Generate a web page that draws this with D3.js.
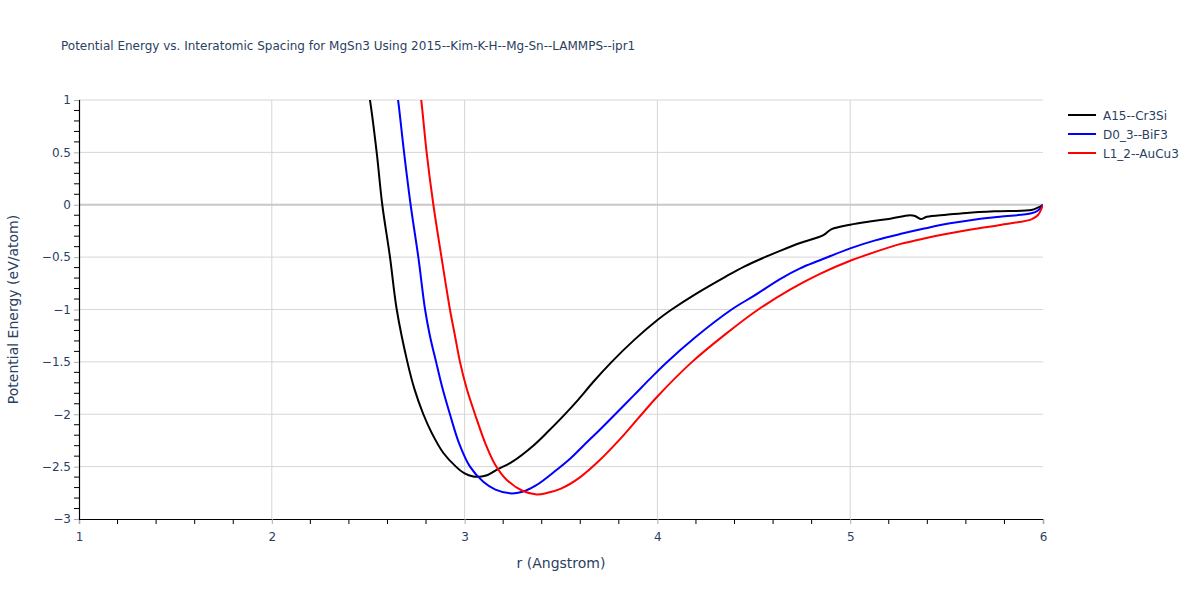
<!DOCTYPE html>
<html lang="en">
<head>
<meta charset="UTF-8">
<title>MgSn3 potential energy</title>
<script src="https://cdnjs.cloudflare.com/ajax/libs/d3/7.9.0/d3.min.js"></script>
<style>
  body { margin: 0; background: #fff; }
  svg { font-family: "DejaVu Sans", Verdana, sans-serif; }
</style>
</head>
<body>
<div id="chart"></div>
<script>
// values: [r (Angstrom), energy (eV/atom)]
const seriesNames = ['A15--Cr3Si', 'D0_3--BiF3', 'L1_2--AuCu3'];
const seriesColors = ['black', 'blue', 'red'];

const a15 = [
  [2.50, 1.08], [2.509, 1.0], [2.544, 0.5], [2.573, 0.0], [2.613, -0.5], [2.648, -1.0],
  [2.703, -1.5], [2.74, -1.76], [2.786, -2.0], [2.83, -2.18], [2.89, -2.37], [2.955, -2.5],
  [3.0, -2.565], [3.045, -2.594], [3.08, -2.596], [3.12, -2.58], [3.166, -2.53], [3.25, -2.45],
  [3.356, -2.30], [3.43, -2.17], [3.51, -2.02], [3.59, -1.86], [3.668, -1.69], [3.763, -1.5],
  [3.88, -1.29], [4.0, -1.10], [4.074, -1.0], [4.2, -0.85], [4.35, -0.69], [4.45, -0.59],
  [4.558, -0.5], [4.636, -0.44], [4.74, -0.365], [4.861, -0.29], [4.904, -0.233], [5.0, -0.19],
  [5.1, -0.16], [5.2, -0.135], [5.31, -0.10], [5.336, -0.107], [5.366, -0.136], [5.397, -0.115],
  [5.5, -0.095], [5.604, -0.078], [5.75, -0.063], [5.94, -0.05], [5.97, -0.03], [6.0, 0.0]
];

const d03 = [
  [2.648, 1.08], [2.655, 1.0], [2.686, 0.5], [2.72, 0.0], [2.76, -0.5], [2.795, -1.0],
  [2.82, -1.25], [2.852, -1.5], [2.885, -1.75], [2.924, -2.0], [2.97, -2.27], [3.028, -2.5],
  [3.097, -2.645], [3.16, -2.72], [3.236, -2.755], [3.30, -2.74], [3.37, -2.68], [3.478, -2.53],
  [3.55, -2.42], [3.616, -2.30], [3.70, -2.15], [3.789, -1.985], [3.88, -1.815], [3.96, -1.665],
  [4.045, -1.51], [4.2, -1.26], [4.385, -1.0], [4.5, -0.87], [4.636, -0.709], [4.74, -0.607],
  [4.843, -0.53], [5.0, -0.416], [5.13, -0.34], [5.258, -0.28], [5.39, -0.225], [5.518, -0.177],
  [5.65, -0.14], [5.777, -0.114], [5.94, -0.082], [5.974, -0.055], [6.0, 0.0]
];

const l12 = [
  [2.768, 1.08], [2.775, 1.0], [2.803, 0.5], [2.838, 0.0], [2.88, -0.5], [2.924, -1.0],
  [2.95, -1.25], [2.976, -1.5], [3.01, -1.75], [3.054, -2.0], [3.11, -2.29], [3.158, -2.48],
  [3.215, -2.62], [3.30, -2.73], [3.374, -2.765], [3.43, -2.75], [3.50, -2.71], [3.60, -2.60],
  [3.70, -2.44], [3.80, -2.25], [3.90, -2.04], [4.0, -1.83], [4.18, -1.5], [4.35, -1.24],
  [4.523, -1.0], [4.688, -0.81], [4.843, -0.66], [5.0, -0.535], [5.13, -0.45], [5.258, -0.376],
  [5.39, -0.32], [5.518, -0.273], [5.65, -0.23], [5.777, -0.193], [5.94, -0.139], [5.974, -0.098],
  [6.0, 0.0]
];

const xTicks = [1, 2, 3, 4, 5, 6];
const yTicks = [-3, -2.5, -2, -1.5, -1, -0.5, 0, 0.5, 1];

const W = 1200, H = 600;
const margin = { top: 100, right: 157, bottom: 81, left: 79 };
const width = W - margin.left - margin.right;
const height = H - margin.top - margin.bottom;
const textColor = '#2a3f5f';

const svg = d3.select('#chart').append('svg')
  .attr('width', W)
  .attr('height', H);

const x = d3.scaleLinear().domain([1, 6]).range([0, width]);
const y = d3.scaleLinear().domain([-3, 1]).range([height, 0]);

const g = svg.append('g')
  .attr('transform', `translate(${margin.left},${margin.top})`);

svg.append('defs').append('clipPath')
  .attr('id', 'plot-clip')
  .append('rect')
  .attr('width', width)
  .attr('height', height);

// grid
g.append('g')
  .selectAll('line')
  .data(yTicks.filter(d => d !== 0 && d !== -3))
  .enter().append('line')
  .attr('x1', 0).attr('x2', width)
  .attr('y1', d => y(d)).attr('y2', d => y(d))
  .attr('stroke', '#d6d6d6').attr('stroke-width', 1);

g.append('g')
  .selectAll('line')
  .data(xTicks.filter(d => d > 1 && d < 6))
  .enter().append('line')
  .attr('x1', d => x(d)).attr('x2', d => x(d))
  .attr('y1', 0).attr('y2', height)
  .attr('stroke', '#d6d6d6').attr('stroke-width', 1);

// zero line
g.append('line')
  .attr('x1', 0).attr('x2', width)
  .attr('y1', y(0)).attr('y2', y(0))
  .attr('stroke', '#c8c8c8').attr('stroke-width', 2);

// minor ticks
const xMinor = d3.range(1, 6.001, 0.2).filter(d => Math.abs(d - Math.round(d)) > 0.01);
const yMinor = d3.range(-3, 1.001, 0.1).filter(d => Math.abs(d * 2 - Math.round(d * 2)) > 0.01);

g.append('g')
  .selectAll('line')
  .data(xMinor)
  .enter().append('line')
  .attr('x1', d => x(d)).attr('x2', d => x(d))
  .attr('y1', height).attr('y2', height + 5)
  .attr('stroke', 'black');

g.append('g')
  .selectAll('line')
  .data(yMinor)
  .enter().append('line')
  .attr('x1', -5).attr('x2', 0)
  .attr('y1', d => y(d)).attr('y2', d => y(d))
  .attr('stroke', 'black');

// axes
const fmt = d => d < 0 ? '\u2212' + Math.abs(d) : String(d);

const xAxis = g.append('g')
  .attr('transform', `translate(0,${height})`)
  .call(d3.axisBottom(x).tickValues(xTicks).tickFormat(fmt).tickSize(5).tickPadding(8));

const yAxis = g.append('g')
  .call(d3.axisLeft(y).tickValues(yTicks).tickFormat(fmt).tickSize(5).tickPadding(3));

[xAxis, yAxis].forEach(a => {
  a.select('.domain').attr('stroke', 'black').attr('stroke-width', 1.2);
  a.selectAll('.tick line').attr('stroke', '#aaaaaa');
  a.selectAll('.tick text')
    .attr('fill', textColor)
    .style('font-size', '12px')
    .style('font-family', '"DejaVu Sans", Verdana, sans-serif');
});

// curves
const line = d3.line()
  .x(d => x(d[0]))
  .y(d => y(d[1]))
  .curve(d3.curveCatmullRom.alpha(0.5));

const allSeries = [a15, d03, l12];

g.append('g')
  .attr('clip-path', 'url(#plot-clip)')
  .selectAll('path')
  .data(allSeries)
  .enter().append('path')
  .attr('d', line)
  .attr('fill', 'none')
  .attr('stroke', (d, i) => seriesColors[i])
  .attr('stroke-width', 2);

// title
svg.append('text')
  .attr('x', 61)
  .attr('y', 50)
  .attr('fill', textColor)
  .style('font-size', '12px')
  .text('Potential Energy vs. Interatomic Spacing for MgSn3 Using 2015--Kim-K-H--Mg-Sn--LAMMPS--ipr1');

// axis titles
svg.append('text')
  .attr('x', margin.left + width / 2)
  .attr('y', 568)
  .attr('text-anchor', 'middle')
  .attr('fill', textColor)
  .style('font-size', '14px')
  .text('r (Angstrom)');

svg.append('text')
  .attr('transform', `translate(18,${margin.top + height / 2}) rotate(-90)`)
  .attr('text-anchor', 'middle')
  .attr('fill', textColor)
  .style('font-size', '14px')
  .text('Potential Energy (eV/atom)');

// legend
const legend = svg.append('g')
  .attr('transform', 'translate(1068,115)');

const item = legend.selectAll('g')
  .data(seriesNames)
  .enter().append('g')
  .attr('transform', (d, i) => `translate(0,${i * 19})`);

item.append('line')
  .attr('x1', 0).attr('x2', 28)
  .attr('stroke', (d, i) => seriesColors[i])
  .attr('stroke-width', 2);

item.append('text')
  .attr('x', 35)
  .attr('y', 4.5)
  .attr('fill', textColor)
  .style('font-size', '12px')
  .text(d => d);
</script>
</body>
</html>
